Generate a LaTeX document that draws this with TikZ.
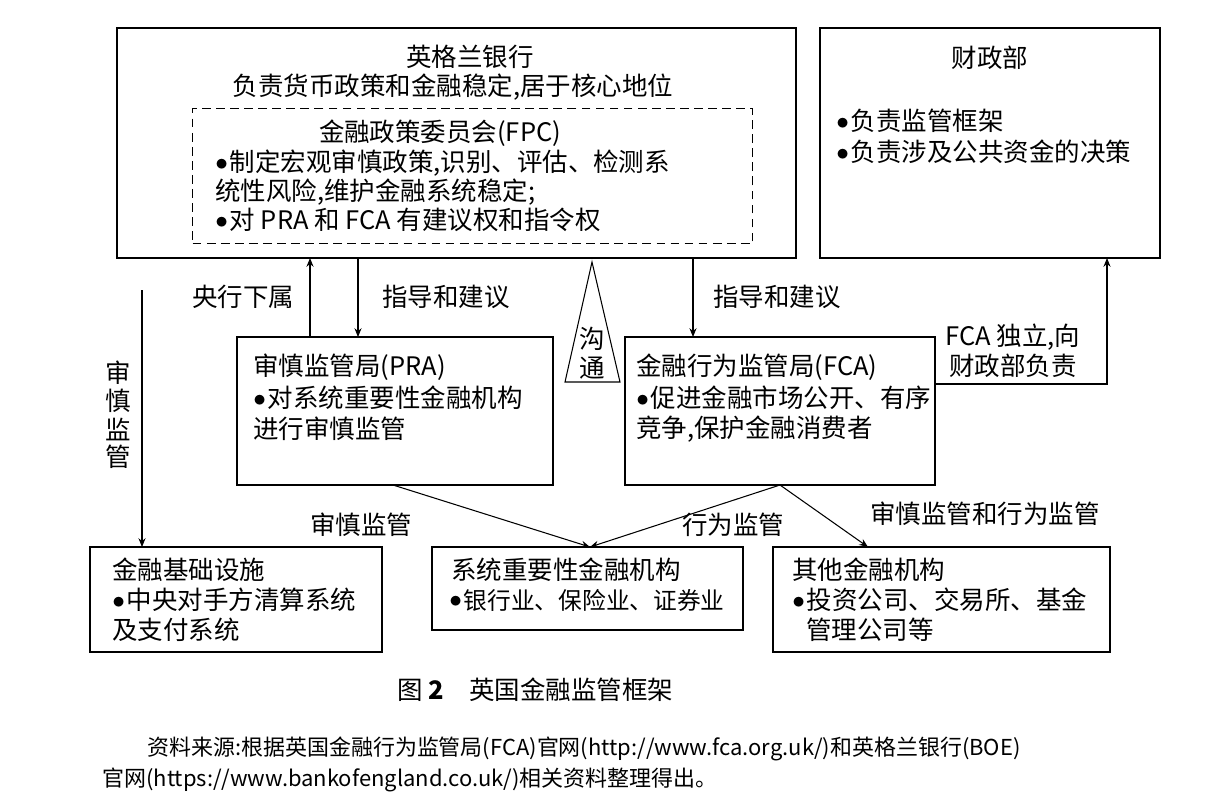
\documentclass[tikz,border=0pt]{standalone}
\usepackage{fontspec}
\setmainfont{Noto Sans CJK SC}
\usetikzlibrary{arrows.meta}
\newcommand{\bul}{\raisebox{0.1ex}{$\bullet$}\hspace{1pt}}
\begin{document}
\begin{tikzpicture}[x=0.02cm,y=-0.02cm,
 box/.style={draw,line width=0.8pt},
 t/.style={font=\fontsize{14.5}{16}\selectfont,inner sep=0pt},
 tl/.style={t,anchor=west},
 arr/.style={-{Stealth[length=5pt,width=4pt]},line width=0.6pt}]
\useasboundingbox (0,0) rectangle (1227,806);
\draw[box] (117,28) rectangle (796,258);
\node[box,dash pattern=on 5pt off 3pt,minimum width=560*0.02cm,minimum height=135*0.02cm,anchor=north west] (fpc) at (192,108) {};
\node[t] (boe) at (470,57) {英格兰银行};
\node[t] at (453,87) {负责货币政策和金融稳定,居于核心地位};
\node[t] at (440,133) {金融政策委员会(FPC)};
\node[tl] at (215,163) {\bul 制定宏观审慎政策,识别、评估、检测系};
\node[tl] at (215,192) {统性风险,维护金融系统稳定;};
\node[tl] at (215,220) {\bul 对 PRA 和 FCA 有建议权和指令权};
\draw[box] (820,28) rectangle (1160,258);
\node[t] at (990,58) {财政部};
\node[tl] at (836,121) {\bul 负责监管框架};
\node[tl] at (836,152) {\bul 负责涉及公共资金的决策};
\draw[line width=0.6pt] (592,262) -- (565,382) -- (620,382) -- cycle;
\node[t] at (592,339) {沟};
\node[t] at (592,368) {通};
\draw[box] (237,337) rectangle (553,485);
\node[tl] at (253,367) {审慎监管局(PRA)};
\node[tl] at (253,398) {\bul 对系统重要性金融机构};
\node[tl] at (253,429) {进行审慎监管};
\draw[box] (625,337) rectangle (935,485);
\node[tl] at (636,367) {金融行为监管局(FCA)};
\node[tl] at (636,398) {\bul 促进金融市场公开、有序};
\node[tl] at (636,429) {竞争,保护金融消费者};
\draw[box] (90,547) rectangle (382,652);
\node[tl] at (112,570) {金融基础设施};
\node[tl] at (112,600) {\bul 中央对手方清算系统};
\node[tl] at (112,630) {及支付系统};
\draw[box] (432,547) rectangle (743,630);
\node[tl] at (451,570) {系统重要性金融机构};
\node[tl,font=\fontsize{13.5}{15}\selectfont] at (449,600) {\bul 银行业、保险业、证券业};
\draw[box] (773,547) rectangle (1110,652);
\node[tl] at (792,570) {其他金融机构};
\node[tl] at (792,600) {\bul 投资公司、交易所、基金};
\node[tl] at (806,630) {管理公司等};
\draw[arr] (310,337) -- (310,258);
\node[t] at (243,297) {央行下属};
\draw[arr] (358,258) -- (358,337);
\node[t] at (446,297) {指导和建议};
\draw[arr] (693,258) -- (693,337);
\node[t] at (777,297) {指导和建议};
\draw[arr] (935,384) -- (1107,384) -- (1107,258);
\node[t] at (1013,337) {FCA 独立,向};
\node[t] at (1013,366) {财政部负责};
\draw[arr] (142,290) -- (142,547);
\node[t] at (118,373) {审};
\node[t] at (118,401) {慎};
\node[t] at (118,429) {监};
\node[t] at (118,457) {管};
\draw[arr] (393,485) -- (590,547);
\draw[arr] (780,485) -- (590,547);
\draw[arr] (780,485) -- (868,547);
\node[t] at (361,525) {审慎监管};
\node[t] at (733,525) {行为监管};
\node[t] at (985,514) {审慎监管和行为监管};
\node[t] at (535,690) {图 \textbf{2}\quad 英国金融监管框架};
\node[tl,font=\fontsize{12.5}{14}\selectfont] at (147,749) {资料来源:根据英国金融行为监管局(FCA)官网(http://www.fca.org.uk/)和英格兰银行(BOE)};
\node[tl,font=\fontsize{12.5}{14}\selectfont] at (102,780) {官网(https://www.bankofengland.co.uk/)相关资料整理得出。};
\end{tikzpicture}
\end{document}
